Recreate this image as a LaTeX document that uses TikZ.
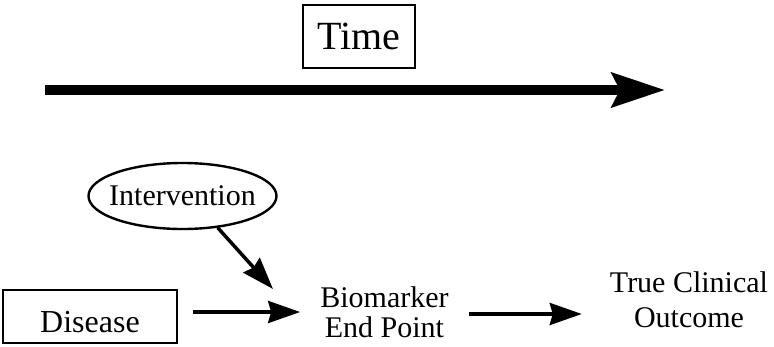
\documentclass[tikz,border=0pt]{standalone}
\usepackage{fontspec}
\setmainfont{Liberation Serif}
\usetikzlibrary{arrows.meta,shapes.geometric}
\begin{document}
\begin{tikzpicture}[x=1pt,y=-1pt,
  lbl/.style={font=\fontsize{30}{30}\selectfont, inner sep=0pt},
  conn/.style={line width=3.5pt, -{Stealth[inset=3pt,length=32pt,width=22pt]}},
  timearrow/.style={line width=10pt, -{Stealth[inset=8pt,length=53pt,width=34pt]}}]
\useasboundingbox (0,0) rectangle (774,346);
% Time label
\node[draw, line width=1.3pt, minimum width=112pt, minimum height=63pt, inner sep=0pt,
      font=\fontsize{40}{40}\selectfont] (time) at (359,36.5) {Time};
% Time arrow
\coordinate (ta) at (45,90);
\coordinate (tb) at (665,90);
\draw[timearrow] (ta) -- (tb);
% Intervention
\node[draw, ellipse, line width=2.4pt, minimum width=188pt, minimum height=66pt, lbl,
      inner xsep=-7pt, inner ysep=0pt] (int) at (182.5,196) {Intervention};
% Disease
\node[draw, line width=2.4pt, minimum width=174pt, minimum height=53pt, inner sep=0pt,
      font=\fontsize{32}{32}\selectfont, text height=31pt, text depth=0pt] (dis) at (90,316.5) {Disease};
% Biomarker
\node[lbl, align=center, inner xsep=20pt] (bio) at (384.5,312) {Biomarker\\End Point};
% Outcome
\node[font=\fontsize{30}{35}\selectfont, inner sep=0pt, align=center, inner xsep=28pt] (out) at (689,299.5) {True Clinical\\Outcome};
% connectors
\coordinate (bioin) at (273,289);
\draw[conn] (int.-42) -- (bioin);
\draw[conn] ([xshift=15pt]dis.east |- bio.west) -- (bio.west);
\draw[conn] ([yshift=-2pt]bio.east) -- ([yshift=-2pt]bio.east -| out.west);
\end{tikzpicture}
\end{document}
